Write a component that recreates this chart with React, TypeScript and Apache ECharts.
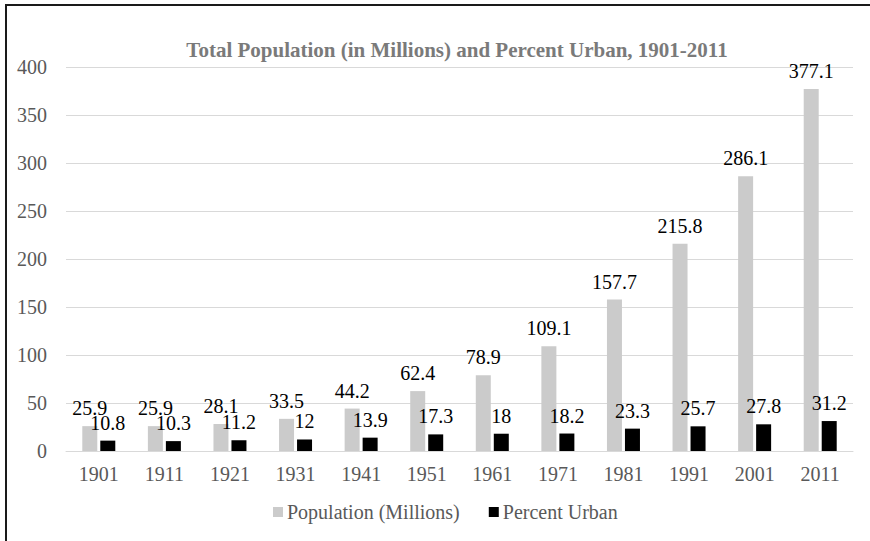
import React, { useEffect, useRef } from "react";
import * as echarts from "echarts";

const years = ["1901", "1911", "1921", "1931", "1941", "1951", "1961", "1971", "1981", "1991", "2001", "2011"];
const population = [25.9, 25.9, 28.1, 33.5, 44.2, 62.4, 78.9, 109.1, 157.7, 215.8, 286.1, 377.1];
const percentUrban = [10.8, 10.3, 11.2, 12, 13.9, 17.3, 18, 18.2, 23.3, 25.7, 27.8, 31.2];

const FONT = "Liberation Serif";

export default function App() {
  const ref = useRef<HTMLDivElement>(null);
  useEffect(() => {
    if (!ref.current) return;
    const chart = echarts.init(ref.current, undefined, { renderer: "svg" });
    const labelStyle = {
      show: true,
      position: "top" as const,
      distance: 8,
      color: "#000",
      fontSize: 20,
      fontFamily: FONT,
    };
    chart.setOption({
      animation: false,
      backgroundColor: "#fff",
      textStyle: { fontFamily: FONT },
      title: {
        text: "Total Population (in Millions) and Percent Urban, 1901-2011",
        left: 452,
        top: 34,
        textAlign: "center",
        textStyle: { color: "#7a7a7a", fontSize: 21, fontWeight: "bold", fontFamily: FONT },
      },
      legend: {
        bottom: 14,
        left: 268,
        itemWidth: 10,
        itemHeight: 10,
        itemGap: 29,
        icon: "rect",
        textStyle: { color: "#595959", fontSize: 20, fontFamily: FONT, padding: [0, 0, 0, -1] },
        data: ["Population (Millions)", "Percent Urban"],
      },
      grid: { left: 66, right: 17, top: 67, bottom: 90 },
      xAxis: {
        type: "category",
        data: years,
        axisLine: { lineStyle: { color: "#d9d9d9", width: 1 } },
        axisTick: { show: false },
        axisLabel: { color: "#595959", fontSize: 20, fontFamily: FONT, margin: 13 },
      },
      yAxis: {
        type: "value",
        min: 0,
        max: 400,
        interval: 50,
        axisLine: { show: false },
        axisTick: { show: false },
        splitLine: { lineStyle: { color: "#d9d9d9", width: 1 } },
        axisLabel: { color: "#595959", fontSize: 20, fontFamily: FONT, margin: 19 },
      },
      series: [
        {
          name: "Population (Millions)",
          type: "bar",
          data: population,
          barWidth: 15,
          barGap: "20%",
          itemStyle: { color: "#cbcbcb" },
          label: labelStyle,
        },
        {
          name: "Percent Urban",
          type: "bar",
          data: percentUrban,
          barWidth: 15,
          itemStyle: { color: "#000000" },
          label: labelStyle,
        },
      ],
      graphic: [
        { type: "line", shape: { x1: 5, y1: 5, x2: 870, y2: 5 }, style: { stroke: "#1a1a1a", lineWidth: 2 } },
        { type: "line", shape: { x1: 6, y1: 4, x2: 6, y2: 541 }, style: { stroke: "#1a1a1a", lineWidth: 2 } },
      ],
    });
    return () => chart.dispose();
  }, []);
  return <div ref={ref} style={{ position: "fixed", left: 0, top: 0, width: 870, height: 541 }} />;
}
